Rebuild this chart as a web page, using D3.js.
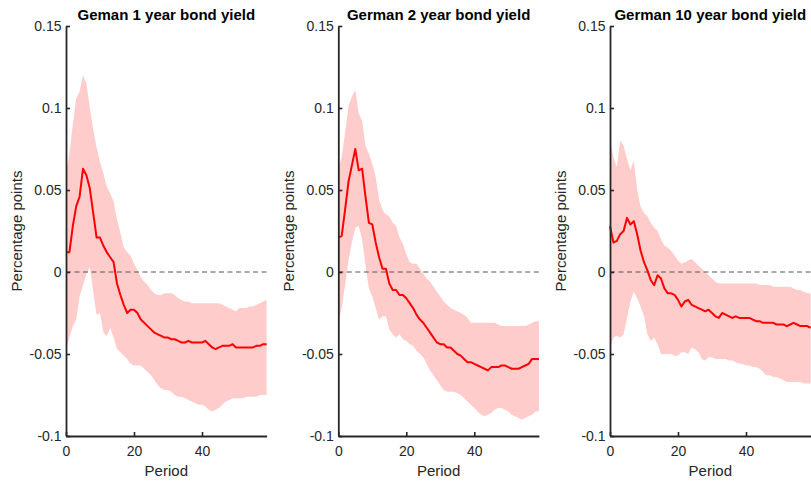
<!DOCTYPE html>
<html>
<head>
<meta charset="utf-8">
<script src="https://cdn.jsdelivr.net/npm/d3@7"></script>
<style>
  html, body { margin: 0; padding: 0; background: #fff; }
  svg { display: block; }
  text { font-family: "Liberation Sans", Arial, Helvetica, sans-serif; }
</style>
</head>
<body>
<div id="chart"></div>
<script>
// ---------------- DATA ----------------
const periods = d3.range(0, 60);
const titles = ["Geman 1 year bond yield", "German 2 year bond yield", "German 10 year bond yield"];
const yTicks = [-0.1, -0.05, 0, 0.05, 0.1, 0.15];
const yTickLabels = ["-0.1", "-0.05", "0", "0.05", "0.1", "0.15"];
const xTicks = [0, 20, 40];
const xLabel = "Period";
const yLabel = "Percentage points";

const y1Line = [0.012,0.012,0.028,0.040,0.046,0.063,0.059,0.051,0.036,0.021,
  0.021,0.016,0.012,0.009,0.006,-0.007,-0.014,-0.020,-0.025,-0.023,
  -0.023,-0.025,-0.029,-0.031,-0.033,-0.035,-0.037,-0.038,-0.039,-0.040,
  -0.040,-0.041,-0.041,-0.042,-0.043,-0.043,-0.042,-0.043,-0.043,-0.043,
  -0.043,-0.042,-0.044,-0.046,-0.047,-0.046,-0.045,-0.045,-0.045,-0.044,
  -0.046,-0.046,-0.046,-0.046,-0.046,-0.046,-0.045,-0.045,-0.044,-0.044];
const y1Upper = [0.060,0.072,0.090,0.106,0.110,0.120,0.115,0.100,0.087,0.076,
  0.067,0.060,0.052,0.048,0.043,0.032,0.024,0.015,0.012,0.010,
  0.005,0.001,-0.003,-0.006,-0.008,-0.011,-0.013,-0.014,-0.014,-0.013,
  -0.013,-0.013,-0.014,-0.016,-0.017,-0.018,-0.018,-0.019,-0.019,-0.019,
  -0.019,-0.019,-0.019,-0.019,-0.019,-0.019,-0.020,-0.021,-0.022,-0.023,
  -0.024,-0.022,-0.022,-0.022,-0.021,-0.021,-0.020,-0.019,-0.018,-0.017];
const y1Lower = [-0.048,-0.040,-0.033,-0.029,-0.015,-0.008,-0.001,0.003,-0.012,-0.026,
  -0.025,-0.037,-0.039,-0.034,-0.040,-0.047,-0.049,-0.051,-0.053,-0.056,
  -0.057,-0.057,-0.057,-0.059,-0.061,-0.063,-0.066,-0.069,-0.071,-0.072,
  -0.072,-0.073,-0.075,-0.076,-0.076,-0.077,-0.078,-0.079,-0.080,-0.081,
  -0.081,-0.082,-0.084,-0.085,-0.084,-0.083,-0.081,-0.079,-0.078,-0.077,
  -0.077,-0.077,-0.077,-0.076,-0.076,-0.076,-0.076,-0.075,-0.075,-0.075];

const y2Line = [0.021,0.022,0.038,0.055,0.065,0.075,0.062,0.063,0.046,0.030,
  0.029,0.018,0.009,0.002,0.002,-0.007,-0.011,-0.011,-0.014,-0.014,
  -0.016,-0.019,-0.022,-0.026,-0.029,-0.031,-0.034,-0.037,-0.040,-0.043,
  -0.044,-0.044,-0.046,-0.046,-0.048,-0.050,-0.051,-0.053,-0.055,-0.055,
  -0.056,-0.057,-0.058,-0.059,-0.060,-0.058,-0.058,-0.058,-0.057,-0.057,
  -0.058,-0.059,-0.059,-0.059,-0.058,-0.057,-0.056,-0.053,-0.053,-0.053];
const y2Upper = [0.063,0.070,0.085,0.101,0.107,0.111,0.097,0.092,0.077,0.072,
  0.066,0.058,0.044,0.038,0.035,0.034,0.030,0.028,0.021,0.017,
  0.011,0.006,0.005,0.005,0.002,-0.001,-0.004,-0.006,-0.009,-0.012,
  -0.015,-0.018,-0.020,-0.022,-0.023,-0.024,-0.025,-0.026,-0.028,-0.031,
  -0.031,-0.031,-0.031,-0.031,-0.031,-0.031,-0.031,-0.032,-0.033,-0.033,
  -0.033,-0.033,-0.033,-0.033,-0.033,-0.033,-0.032,-0.031,-0.030,-0.030];
const y2Lower = [-0.031,-0.022,-0.008,0.007,0.018,0.027,0.028,0.020,0.004,-0.010,
  -0.015,-0.022,-0.029,-0.027,-0.027,-0.035,-0.038,-0.040,-0.038,-0.041,
  -0.042,-0.044,-0.045,-0.048,-0.050,-0.052,-0.056,-0.060,-0.063,-0.066,
  -0.069,-0.072,-0.073,-0.073,-0.073,-0.074,-0.075,-0.077,-0.079,-0.081,
  -0.083,-0.085,-0.087,-0.088,-0.087,-0.086,-0.084,-0.083,-0.083,-0.084,
  -0.085,-0.087,-0.088,-0.089,-0.090,-0.089,-0.088,-0.087,-0.085,-0.085];

const y10Line = [0.028,0.018,0.019,0.023,0.025,0.033,0.029,0.031,0.023,0.013,
  0.006,0.001,-0.005,-0.008,-0.002,-0.004,-0.010,-0.013,-0.013,-0.014,
  -0.017,-0.021,-0.018,-0.017,-0.020,-0.021,-0.022,-0.023,-0.024,-0.023,
  -0.025,-0.027,-0.028,-0.025,-0.026,-0.027,-0.028,-0.027,-0.028,-0.028,
  -0.028,-0.028,-0.029,-0.030,-0.030,-0.031,-0.031,-0.031,-0.031,-0.032,
  -0.032,-0.032,-0.033,-0.032,-0.031,-0.032,-0.033,-0.033,-0.033,-0.034];
const y10Upper = [0.080,0.070,0.064,0.080,0.077,0.069,0.062,0.068,0.050,0.040,
  0.036,0.034,0.030,0.027,0.025,0.020,0.016,0.015,0.013,0.010,
  0.007,0.005,0.006,0.007,0.008,0.006,0.004,0.002,0.000,-0.002,
  -0.004,-0.006,-0.007,-0.007,-0.007,-0.007,-0.007,-0.007,-0.007,-0.007,
  -0.007,-0.007,-0.007,-0.007,-0.008,-0.008,-0.008,-0.008,-0.009,-0.009,
  -0.009,-0.009,-0.009,-0.009,-0.010,-0.011,-0.011,-0.012,-0.013,-0.013];
const y10Lower = [-0.047,-0.040,-0.039,-0.040,-0.038,-0.028,-0.018,-0.012,-0.016,-0.021,
  -0.027,-0.038,-0.042,-0.040,-0.044,-0.050,-0.050,-0.050,-0.050,-0.051,
  -0.051,-0.049,-0.049,-0.050,-0.046,-0.047,-0.049,-0.053,-0.054,-0.052,
  -0.052,-0.053,-0.053,-0.053,-0.053,-0.054,-0.054,-0.055,-0.056,-0.056,
  -0.057,-0.057,-0.058,-0.058,-0.059,-0.061,-0.063,-0.063,-0.064,-0.064,
  -0.065,-0.066,-0.067,-0.067,-0.067,-0.067,-0.067,-0.068,-0.068,-0.068];

const lines = [y1Line, y2Line, y10Line];
const uppers = [y1Upper, y2Upper, y10Upper];
const lowers = [y1Lower, y2Lower, y10Lower];

// ---------------- LAYOUT ----------------
const W = 811, H = 483;
const panelLeft = [66, 338.3, 610];
const panelWidth = 200.6;
const plotTop = 26, plotBottom = 436;
const axisColor = "#262626";

const svg = d3.select("#chart").append("svg")
  .attr("width", W).attr("height", H);

const y = d3.scaleLinear().domain([-0.1, 0.15]).range([plotBottom, plotTop]);

titles.forEach((title, i) => {
  const x0 = panelLeft[i];
  const x = d3.scaleLinear().domain([0, 59]).range([x0, x0 + panelWidth]);
  const g = svg.append("g");

  const rows = periods.map((p, k) => ({ p, v: lines[i][k], hi: uppers[i][k], lo: lowers[i][k] }));

  // confidence band
  g.append("path")
    .datum(rows)
    .attr("fill", "#ffcccc")
    .attr("stroke", "none")
    .attr("d", d3.area().x(d => x(d.p)).y0(d => y(d.lo)).y1(d => y(d.hi)));

  // zero dashed line
  g.append("line")
    .attr("x1", x(0)).attr("x2", x(59))
    .attr("y1", y(0)).attr("y2", y(0))
    .attr("stroke", "#555").attr("stroke-width", 1)
    .attr("stroke-dasharray", "5,3.5");

  // IRF line
  g.append("path")
    .datum(rows)
    .attr("fill", "none")
    .attr("stroke", "#ff0000")
    .attr("stroke-width", 2)
    .attr("stroke-linejoin", "round")
    .attr("d", d3.line().x(d => x(d.p)).y(d => y(d.v)));

  // y axis
  const yAxis = g.append("g")
    .attr("transform", `translate(${x0},0)`)
    .call(d3.axisLeft(y).tickValues(yTicks).tickSizeInner(-4).tickSizeOuter(0)
      .tickFormat((d, k) => yTickLabels[k]));
  yAxis.select(".domain").attr("stroke", axisColor).attr("stroke-width", 1.8);
  yAxis.selectAll(".tick line").attr("stroke", axisColor).attr("stroke-width", 1.6);
  yAxis.selectAll(".tick text")
    .attr("x", -4.5).attr("dy", "0.35em")
    .attr("fill", axisColor).style("font-size", "14px")
    .style("font-family", "'Liberation Sans', Arial, sans-serif");

  // x axis
  const xAxis = g.append("g")
    .attr("transform", `translate(0,${plotBottom})`)
    .call(d3.axisBottom(x).tickValues(xTicks).tickSizeInner(-4).tickSizeOuter(0));
  xAxis.select(".domain").attr("stroke", axisColor).attr("stroke-width", 1.8);
  xAxis.selectAll(".tick line").attr("stroke", axisColor).attr("stroke-width", 1.6);
  xAxis.selectAll(".tick text")
    .attr("y", 20).attr("dy", null)
    .attr("fill", axisColor).style("font-size", "14px")
    .style("font-family", "'Liberation Sans', Arial, sans-serif");

  // title
  g.append("text")
    .attr("x", x0 + panelWidth / 2).attr("y", 20)
    .attr("text-anchor", "middle")
    .attr("fill", "#000")
    .style("font-size", "15px").style("font-weight", "bold")
    .text(title);

  // x label
  g.append("text")
    .attr("x", x0 + panelWidth / 2).attr("y", 476)
    .attr("text-anchor", "middle")
    .attr("fill", axisColor)
    .style("font-size", "15px")
    .text(xLabel);

  // y label
  g.append("text")
    .attr("transform", `translate(${x0 - 44},${(plotTop + plotBottom) / 2}) rotate(-90)`)
    .attr("text-anchor", "middle")
    .attr("fill", axisColor)
    .style("font-size", "15px")
    .text(yLabel);
});
</script>
</body>
</html>
